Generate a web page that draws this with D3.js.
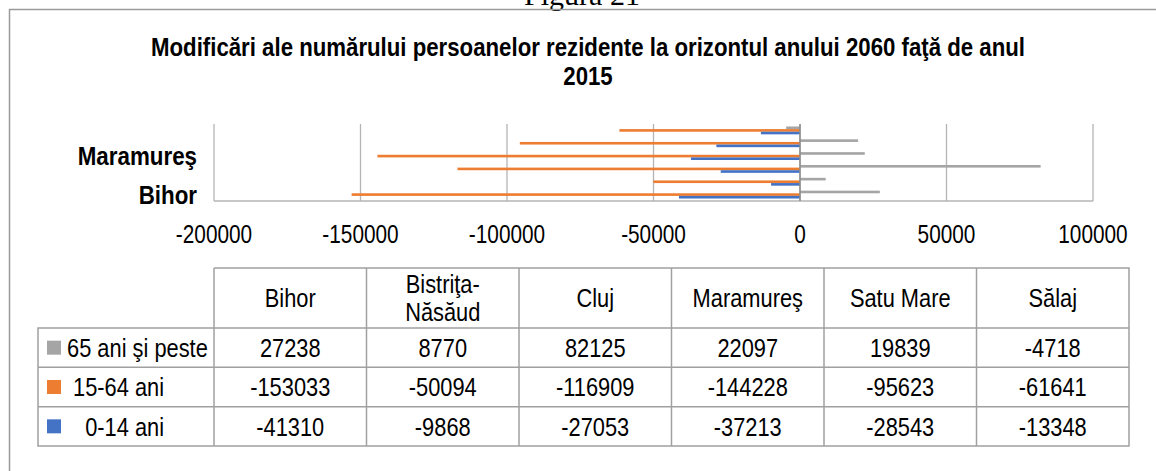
<!DOCTYPE html>
<html>
<head>
<meta charset="utf-8">
<script src="https://cdn.jsdelivr.net/npm/d3@7"></script>
<style>
    body { margin: 0; background: #fff; }
    text { font-family: "Liberation Sans", Arial, sans-serif; fill: #000; }
</style>
</head>
<body>
<div id="chart"></div>
<script>
// counties (categories), bottom to top on the chart / left to right in the table
const counties = ["Bihor", "Bistriţa-Năsăud", "Cluj", "Maramureş", "Satu Mare", "Sălaj"];
// only every third county gets a label on the axis (like excel does)
const shownCounties = ["Bihor", "Maramureş"];

// series
const ageGroups = ["65 ani şi peste", "15-64 ani", "0-14 ani"];
const legendLabels = ["65 ani şi peste", " 15-64 ani", "   0-14 ani"];
const age65 = [27238, 8770, 82125, 22097, 19839, -4718];
const age1564 = [-153033, -50094, -116909, -144228, -95623, -61641];
const age014 = [-41310, -9868, -27053, -37213, -28543, -13348];
const seriesColors = ["#a5a5a5", "#ed7d31", "#4472c4"];

const xTicks = [-200000, -150000, -100000, -50000, 0, 50000, 100000];

const titleLines = ["Modificări ale numărului persoanelor rezidente la orizontul anului 2060 faţă de anul", "2015"];

// build the series table
let series = ageGroups.map(function(g, i) {
    return {
        name: g,
        label: legendLabels[i],
        color: seriesColors[i],
        values: [age65, age1564, age014][i]
    };
});

let width = 1156, height = 471;
let plot = {left: 214, right: 1093, top: 124, bottom: 201};
let table = {left: 38, head: 214, right: 1129, top: 268, headBottom: 328, bottom: 446};
let narrow = 0.84; // the original font is a condensed one

// squeeze texts horizontally around their anchor point
function squeeze(sel, k) {
    sel.each(function() {
        let t = d3.select(this);
        let tx = +t.attr("x") || 0, ty = +t.attr("y") || 0;
        t.attr("x", 0).attr("y", 0)
            .attr("transform", "translate(" + tx + "," + ty + ") scale(" + k + ",1)");
    });
}

let svg = d3.select("#chart").append("svg")
    .attr("width", width)
    .attr("height", height);

// caption above the chart, mostly cut off
svg.append("text")
    .attr("x", 582)
    .attr("y", 5)
    .attr("text-anchor", "middle")
    .style("font-family", "'Liberation Serif', serif")
    .style("font-size", "30px")
    .text("Figura 21");

// chart frame (left + top edge visible)
svg.append("path")
    .attr("d", "M9.5," + height + "V9.5H" + width)
    .attr("fill", "none")
    .attr("stroke", "#9a9a9a")
    .attr("stroke-width", 1.5);

// title
svg.append("g").selectAll("text")
    .data(titleLines)
    .enter().append("text")
    .attr("x", 588)
    .attr("y", (d, i) => 56 + i * 29)
    .attr("text-anchor", "middle")
    .style("font-size", "26px")
    .style("font-weight", "bold")
    .text(d => d)
    .call(squeeze, 0.855);

// scales
let x = d3.scaleLinear()
    .domain([-200000, 100000])
    .range([plot.left, plot.right]);

let y = d3.scaleBand()
    .domain(counties)
    .range([plot.bottom, plot.top]);

let ySub = d3.scaleBand()
    .domain(ageGroups)
    .range([0, y.bandwidth()])
    .paddingOuter(0.95);

// gridlines
svg.append("g").selectAll("line")
    .data(xTicks)
    .enter().append("line")
    .attr("x1", d => x(d)).attr("x2", d => x(d))
    .attr("y1", plot.top).attr("y2", plot.bottom)
    .attr("stroke", "#b4b4b4")
    .attr("stroke-width", 1.3);

// bottom value axis line
svg.append("line")
    .attr("x1", plot.left).attr("x2", plot.right)
    .attr("y1", plot.bottom).attr("y2", plot.bottom)
    .attr("stroke", "#b4b4b4")
    .attr("stroke-width", 1.5);

// bars
let barGroups = svg.append("g").selectAll("g")
    .data(series)
    .enter().append("g")
    .attr("fill", d => d.color);

barGroups.selectAll("rect")
    .data(s => s.values.map((v, i) => ({group: s.name, county: counties[i], value: v})))
    .enter().append("rect")
    .attr("x", d => x(Math.min(0, d.value)))
    .attr("width", d => Math.abs(x(d.value) - x(0)))
    .attr("y", d => y(d.county) + ySub(d.group))
    .attr("height", ySub.bandwidth());

// category axis at zero
svg.append("line")
    .attr("x1", x(0)).attr("x2", x(0))
    .attr("y1", plot.top).attr("y2", plot.bottom)
    .attr("stroke", "#8c8c8c")
    .attr("stroke-width", 1.5);

// category labels
svg.append("g").selectAll("text")
    .data(shownCounties)
    .enter().append("text")
    .attr("x", 197)
    .attr("y", d => y(d) + y.bandwidth() / 2)
    .attr("dy", "0.36em")
    .attr("text-anchor", "end")
    .style("font-size", "26px")
    .style("font-weight", "bold")
    .text(d => d)
    .call(squeeze, 0.86);

// value tick labels
svg.append("g").selectAll("text")
    .data(xTicks)
    .enter().append("text")
    .attr("x", d => x(d))
    .attr("y", 243)
    .attr("text-anchor", "middle")
    .style("font-size", "26px")
    .text(d => String(d))
    .call(squeeze, 0.8);

// ----- data table -----
let col = d3.scaleBand()
    .domain(counties)
    .range([table.head, table.right]);

let row = d3.scaleBand()
    .domain(ageGroups)
    .range([table.headBottom, table.bottom]);

let tbl = svg.append("g")
    .attr("fill", "none")
    .attr("stroke", "#a0a0a0")
    .attr("stroke-width", 1.5);

// outer pieces
tbl.append("path")
    .attr("d", "M" + table.head + "," + table.top + "H" + table.right + "V" + table.bottom +
        "H" + table.left + "V" + table.headBottom + "H" + table.right);

// vertical lines
tbl.selectAll(".vline")
    .data(counties)
    .enter().append("line")
    .attr("class", "vline")
    .attr("x1", d => col(d)).attr("x2", d => col(d))
    .attr("y1", table.top).attr("y2", table.bottom);

// horizontal row lines
tbl.selectAll(".hline")
    .data(ageGroups.slice(1))
    .enter().append("line")
    .attr("class", "hline")
    .attr("x1", table.left).attr("x2", table.right)
    .attr("y1", d => row(d)).attr("y2", d => row(d));

// header text (hyphenated names wrap onto two lines)
let headMid = (table.top + table.headBottom) / 2;
let headLines = [];
counties.forEach(function(c) {
    let parts = c.split(/(?<=-)/);
    parts.forEach(function(p, i) {
        headLines.push({county: c, text: p, off: i - (parts.length - 1) / 2});
    });
});

svg.append("g").selectAll("text")
    .data(headLines)
    .enter().append("text")
    .attr("x", d => col(d.county) + col.bandwidth() / 2)
    .attr("y", d => headMid + d.off * 28)
    .attr("dy", "0.36em")
    .attr("text-anchor", "middle")
    .style("font-size", "26px")
    .text(d => d.text)
    .call(squeeze, narrow);

// legend keys + labels
let rows = svg.append("g").selectAll("g")
    .data(series)
    .enter().append("g")
    .attr("transform", d => "translate(0," + (row(d.name) + row.bandwidth() / 2) + ")");

rows.append("rect")
    .attr("x", 47)
    .attr("y", -7)
    .attr("width", 14)
    .attr("height", 14)
    .attr("fill", d => d.color);

rows.append("text")
    .attr("x", 67)
    .attr("dy", "0.36em")
    .style("font-size", "26px")
    .style("white-space", "pre")
    .text(d => d.label)
    .call(squeeze, narrow);

// values
rows.selectAll(".val")
    .data(d => d.values)
    .enter().append("text")
    .attr("class", "val")
    .attr("x", (d, i) => col(counties[i]) + col.bandwidth() / 2)
    .attr("dy", "0.36em")
    .attr("text-anchor", "middle")
    .style("font-size", "26px")
    .text(d => d)
    .call(squeeze, narrow);
</script>
</body>
</html>
